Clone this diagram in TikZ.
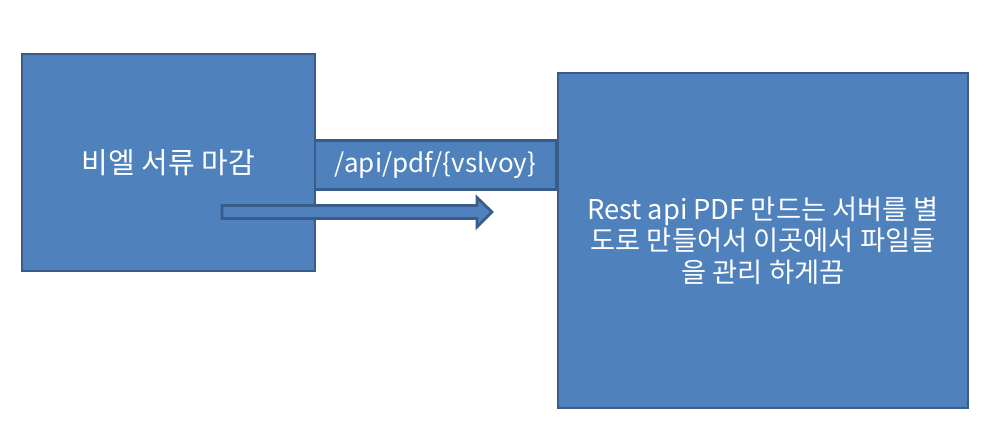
\documentclass[tikz,border=0pt]{standalone}
\usepackage{fontspec}
\setmainfont{Noto Sans CJK KR}
\definecolor{boxfill}{HTML}{4F81BD}
\definecolor{boxline}{HTML}{385D8A}
\tikzset{
  blockbox/.style={draw=boxline, fill=boxfill, line width=2.7pt, rectangle, inner sep=0pt, text=white, align=center},
  blockarrow/.style={draw=boxline, fill=boxfill, line width=2.7pt, line join=miter}
}
\begin{document}
\begin{tikzpicture}[x=1pt,y=-1pt]
\useasboundingbox (0,0) rectangle (1005,433);
\node[blockbox, minimum width=293pt, minimum height=217pt, font=\fontsize{29}{34}\selectfont] (left) at (168.5,162.5) {비엘 서류 마감};
\node[blockbox, minimum width=241pt, minimum height=49pt, font=\fontsize{26}{30}\selectfont] (api) at (435.5,165) {/api/pdf/\{vslvoy\}};
\node[blockbox, minimum width=410pt, minimum height=335pt, font=\fontsize{27.3}{31.5}\selectfont] (right) at (763,240.5) {Rest api PDF 만드는 서버를 별\\도로 만들어서 이곳에서 파일들\\을 관리 하게끔};
\coordinate (arrowtail) at (222,212);
\coordinate (arrowtip) at (492,212);
\draw[blockarrow] (arrowtail) ++(0,-6.5) -- ++(255,0) -- ++(0,-8) -- (arrowtip) -- ++(-15,15) -- ++(0,-8.5) -- ++(-255,0) -- cycle;
\end{tikzpicture}
\end{document}
